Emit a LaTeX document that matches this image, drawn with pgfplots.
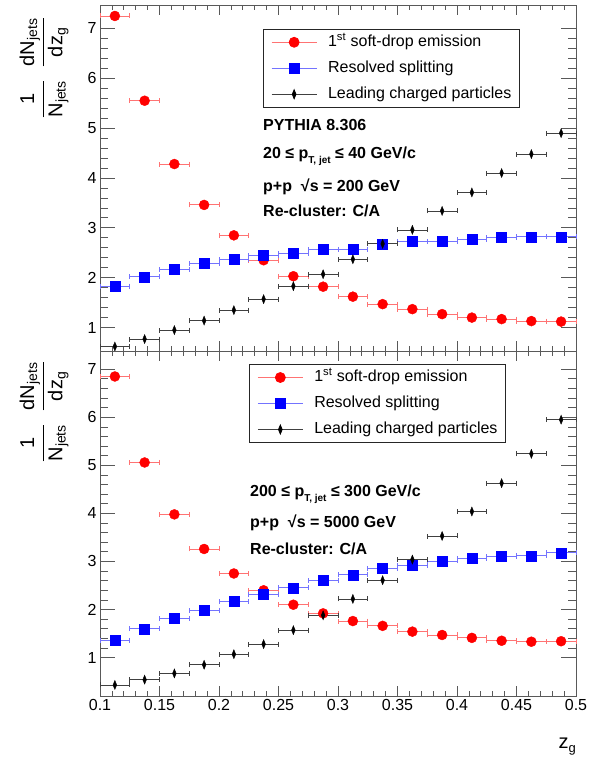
\documentclass[border=0pt]{standalone}
\usepackage{amsmath}
\usepackage{fontspec}
\setmainfont{Liberation Sans}
\usepackage{pgfplots}
\usepackage{pgfplotstable}
\pgfplotsset{compat=1.18}

\pgfplotstableread{
x y
0.1125 7.25
0.1375 5.55
0.1625 4.28
0.1875 3.46
0.2125 2.85
0.2375 2.35
0.2625 2.03
0.2875 1.82
0.3125 1.62
0.3375 1.47
0.3625 1.37
0.3875 1.27
0.4125 1.20
0.4375 1.17
0.4625 1.13
0.4875 1.12
}\topred
\pgfplotstableread{
x y
0.1125 1.83
0.1375 2.02
0.1625 2.17
0.1875 2.29
0.2125 2.37
0.2375 2.45
0.2625 2.49
0.2875 2.57
0.3125 2.57
0.3375 2.68
0.3625 2.73
0.3875 2.73
0.4125 2.77
0.4375 2.81
0.4625 2.82
0.4875 2.82
}\topblue
\pgfplotstableread{
x y
0.1125 0.62
0.1375 0.77
0.1625 0.95
0.1875 1.14
0.2125 1.35
0.2375 1.57
0.2625 1.83
0.2875 2.07
0.3125 2.37
0.3375 2.68
0.3625 2.96
0.3875 3.34
0.4125 3.71
0.4375 4.10
0.4625 4.48
0.4875 4.90
}\topblack
\pgfplotstableread{
x y
0.1125 6.85
0.1375 5.06
0.1625 3.98
0.1875 3.26
0.2125 2.75
0.2375 2.40
0.2625 2.10
0.2875 1.92
0.3125 1.76
0.3375 1.66
0.3625 1.54
0.3875 1.47
0.4125 1.41
0.4375 1.35
0.4625 1.33
0.4875 1.34
}\botred
\pgfplotstableread{
x y
0.1125 1.36
0.1375 1.60
0.1625 1.81
0.1875 1.98
0.2125 2.17
0.2375 2.31
0.2625 2.45
0.2875 2.61
0.3125 2.72
0.3375 2.85
0.3625 2.92
0.3875 3.01
0.4125 3.06
0.4375 3.10
0.4625 3.12
0.4875 3.18
}\botblue
\pgfplotstableread{
x y
0.1125 0.43
0.1375 0.54
0.1625 0.67
0.1875 0.85
0.2125 1.07
0.2375 1.28
0.2625 1.57
0.2875 1.88
0.3125 2.22
0.3375 2.61
0.3625 3.04
0.3875 3.53
0.4125 4.04
0.4375 4.63
0.4625 5.24
0.4875 5.95
}\botblack

\pgfplotsset{
  rootaxis/.style={
    width=476pt, scale only axis,
    xmin=0.1, xmax=0.5,
    xtick={0.1,0.15,0.2,0.25,0.3,0.35,0.4,0.45,0.5},
    minor x tick num=4,
    ytick={1,2,3,4,5,6,7},
    minor y tick num=4,
    tick align=inside,
    xtick pos=both, ytick pos=both,
    xticklabel pos=bottom, yticklabel pos=left,
    axis line style={black!65, line width=0.8pt},
    tick style={black!65, line width=0.8pt},
    major tick length=15pt, minor tick length=7.5pt,
    xtick style={/pgfplots/major tick length=10pt, /pgfplots/minor tick length=5pt},
    tick label style={font=\fontsize{16}{19}\selectfont},
    /pgf/number format/assume math mode=true,
    clip=false,
    scaled ticks=false,
  },
  redser/.style={only marks, mark=*, mark size=5pt, color=red,
    error bars/x dir=both, error bars/x fixed=0.0125,
    error bars/error mark=|,
    error bars/error bar style={red!55, line width=0.9pt},
    error bars/error mark options={red!55, line width=0.9pt, mark size=2.5pt}},
  blueser/.style={only marks, mark=square*, mark size=5pt, color=blue,
    error bars/x dir=both, error bars/x fixed=0.0125,
    error bars/error mark=|,
    error bars/error bar style={blue!55, line width=0.9pt},
    error bars/error mark options={blue!55, line width=0.9pt, mark size=2.5pt}},
  blackser/.style={only marks, mark=diamond*, mark size=4.5pt, color=black,
    mark options={xscale=0.55},
    error bars/x dir=both, error bars/x fixed=0.0125,
    error bars/error mark=|,
    error bars/error bar style={black!75, line width=0.7pt},
    error bars/error mark options={black!75, line width=0.7pt, mark size=2.5pt}},
  redleg/.style={legend image code/.code={
    \draw[red!55, line width=0.9pt] (0pt,0pt) -- (45pt,0pt);
    \draw[##1, mark repeat=2, mark phase=2] plot coordinates {(0pt,0pt) (22.5pt,0pt) (45pt,0pt)};}},
  blueleg/.style={legend image code/.code={
    \draw[blue!55, line width=0.9pt] (0pt,0pt) -- (45pt,0pt);
    \draw[##1, mark repeat=2, mark phase=2] plot coordinates {(0pt,0pt) (22.5pt,0pt) (45pt,0pt)};}},
  blackleg/.style={legend image code/.code={
    \draw[black!75, line width=0.7pt] (0pt,0pt) -- (45pt,0pt);
    \draw[##1, mark repeat=2, mark phase=2] plot coordinates {(0pt,0pt) (22.5pt,0pt) (45pt,0pt)};}},
  rootlegend/.style={legend style={draw=black!85, line width=0.8pt, fill=white,
    inner xsep=8pt, inner ysep=5pt, row sep=10pt, column sep=11pt,
    font=\fontsize{16}{19}\selectfont,
    nodes={inner sep=0pt, text height=12pt, text depth=4pt},
    cells={anchor=west}}},
}

\begin{document}
\begin{tikzpicture}
\path[use as bounding box] (0pt,0pt) rectangle (591pt,-758pt);

% top panel
\begin{axis}[rootaxis, rootlegend,
  at={(100pt,-5pt)}, anchor=north west, height=346pt,
  ymin=0.53, ymax=7.47, xticklabels={},
  legend style={at={(0.342,0.931)}, anchor=north west}]
\addplot[redser, redleg] table {\topred};
\addlegendentry{1\textsuperscript{st} soft-drop emission}
\addplot[blueser, blueleg] table {\topblue};
\addlegendentry{Resolved splitting}
\addplot[blackser, blackleg] table {\topblack};
\addlegendentry{Leading charged particles}
\end{axis}

% bottom panel
\begin{axis}[rootaxis, rootlegend,
  at={(100pt,-351pt)}, anchor=north west, height=345pt,
  ymin=0.2, ymax=7.38,
  xticklabels={0.1,0.15,0.2,0.25,0.3,0.35,0.4,0.45,0.5},
  legend style={at={(0.313,0.962)}, anchor=north west}]
\addplot[redser, redleg] table {\botred};
\addlegendentry{1\textsuperscript{st} soft-drop emission}
\addplot[blueser, blueleg] table {\botblue};
\addlegendentry{Resolved splitting}
\addplot[blackser, blackleg] table {\botblack};
\addlegendentry{Leading charged particles}
\end{axis}

% annotations
\begin{scope}[every node/.style={anchor=base west, inner sep=0pt, font=\fontsize{16}{19}\selectfont\bfseries}]
\node at (263pt,-130pt) {PYTHIA 8.306};
\node at (263pt,-158pt) {20 ≤ p\raisebox{-5pt}{\fontsize{10}{12}\selectfont T, jet} ≤ 40 GeV/c};
\node at (263pt,-191pt) {p+p \ √s = 200 GeV};
\node at (263pt,-216pt) {Re-cluster: C/A};
\node at (250pt,-496pt) {200 ≤ p\raisebox{-5pt}{\fontsize{10}{12}\selectfont T, jet} ≤ 300 GeV/c};
\node at (250pt,-527pt) {p+p \ √s = 5000 GeV};
\node at (250pt,-554pt) {Re-cluster: C/A};
\end{scope}

% y labels
\node[rotate=90, anchor=east, inner sep=0pt, font=\fontsize{20}{24}\selectfont] at (44pt,-17pt)
  {$\dfrac{\text{1}}{\text{N}_{\text{jets}}}\hspace{12pt}\dfrac{\text{dN}_{\text{jets}}}{\text{dz}_{\text{g}}}$};
\node[rotate=90, anchor=east, inner sep=0pt, font=\fontsize{20}{24}\selectfont] at (44pt,-361pt)
  {$\dfrac{\text{1}}{\text{N}_{\text{jets}}}\hspace{12pt}\dfrac{\text{dN}_{\text{jets}}}{\text{dz}_{\text{g}}}$};

% x label
\node[anchor=base east, inner sep=0pt, font=\fontsize{20}{24}\selectfont] at (576pt,-748pt)
  {z\raisebox{-4pt}{\fontsize{13}{15}\selectfont g}};
\end{tikzpicture}
\end{document}
